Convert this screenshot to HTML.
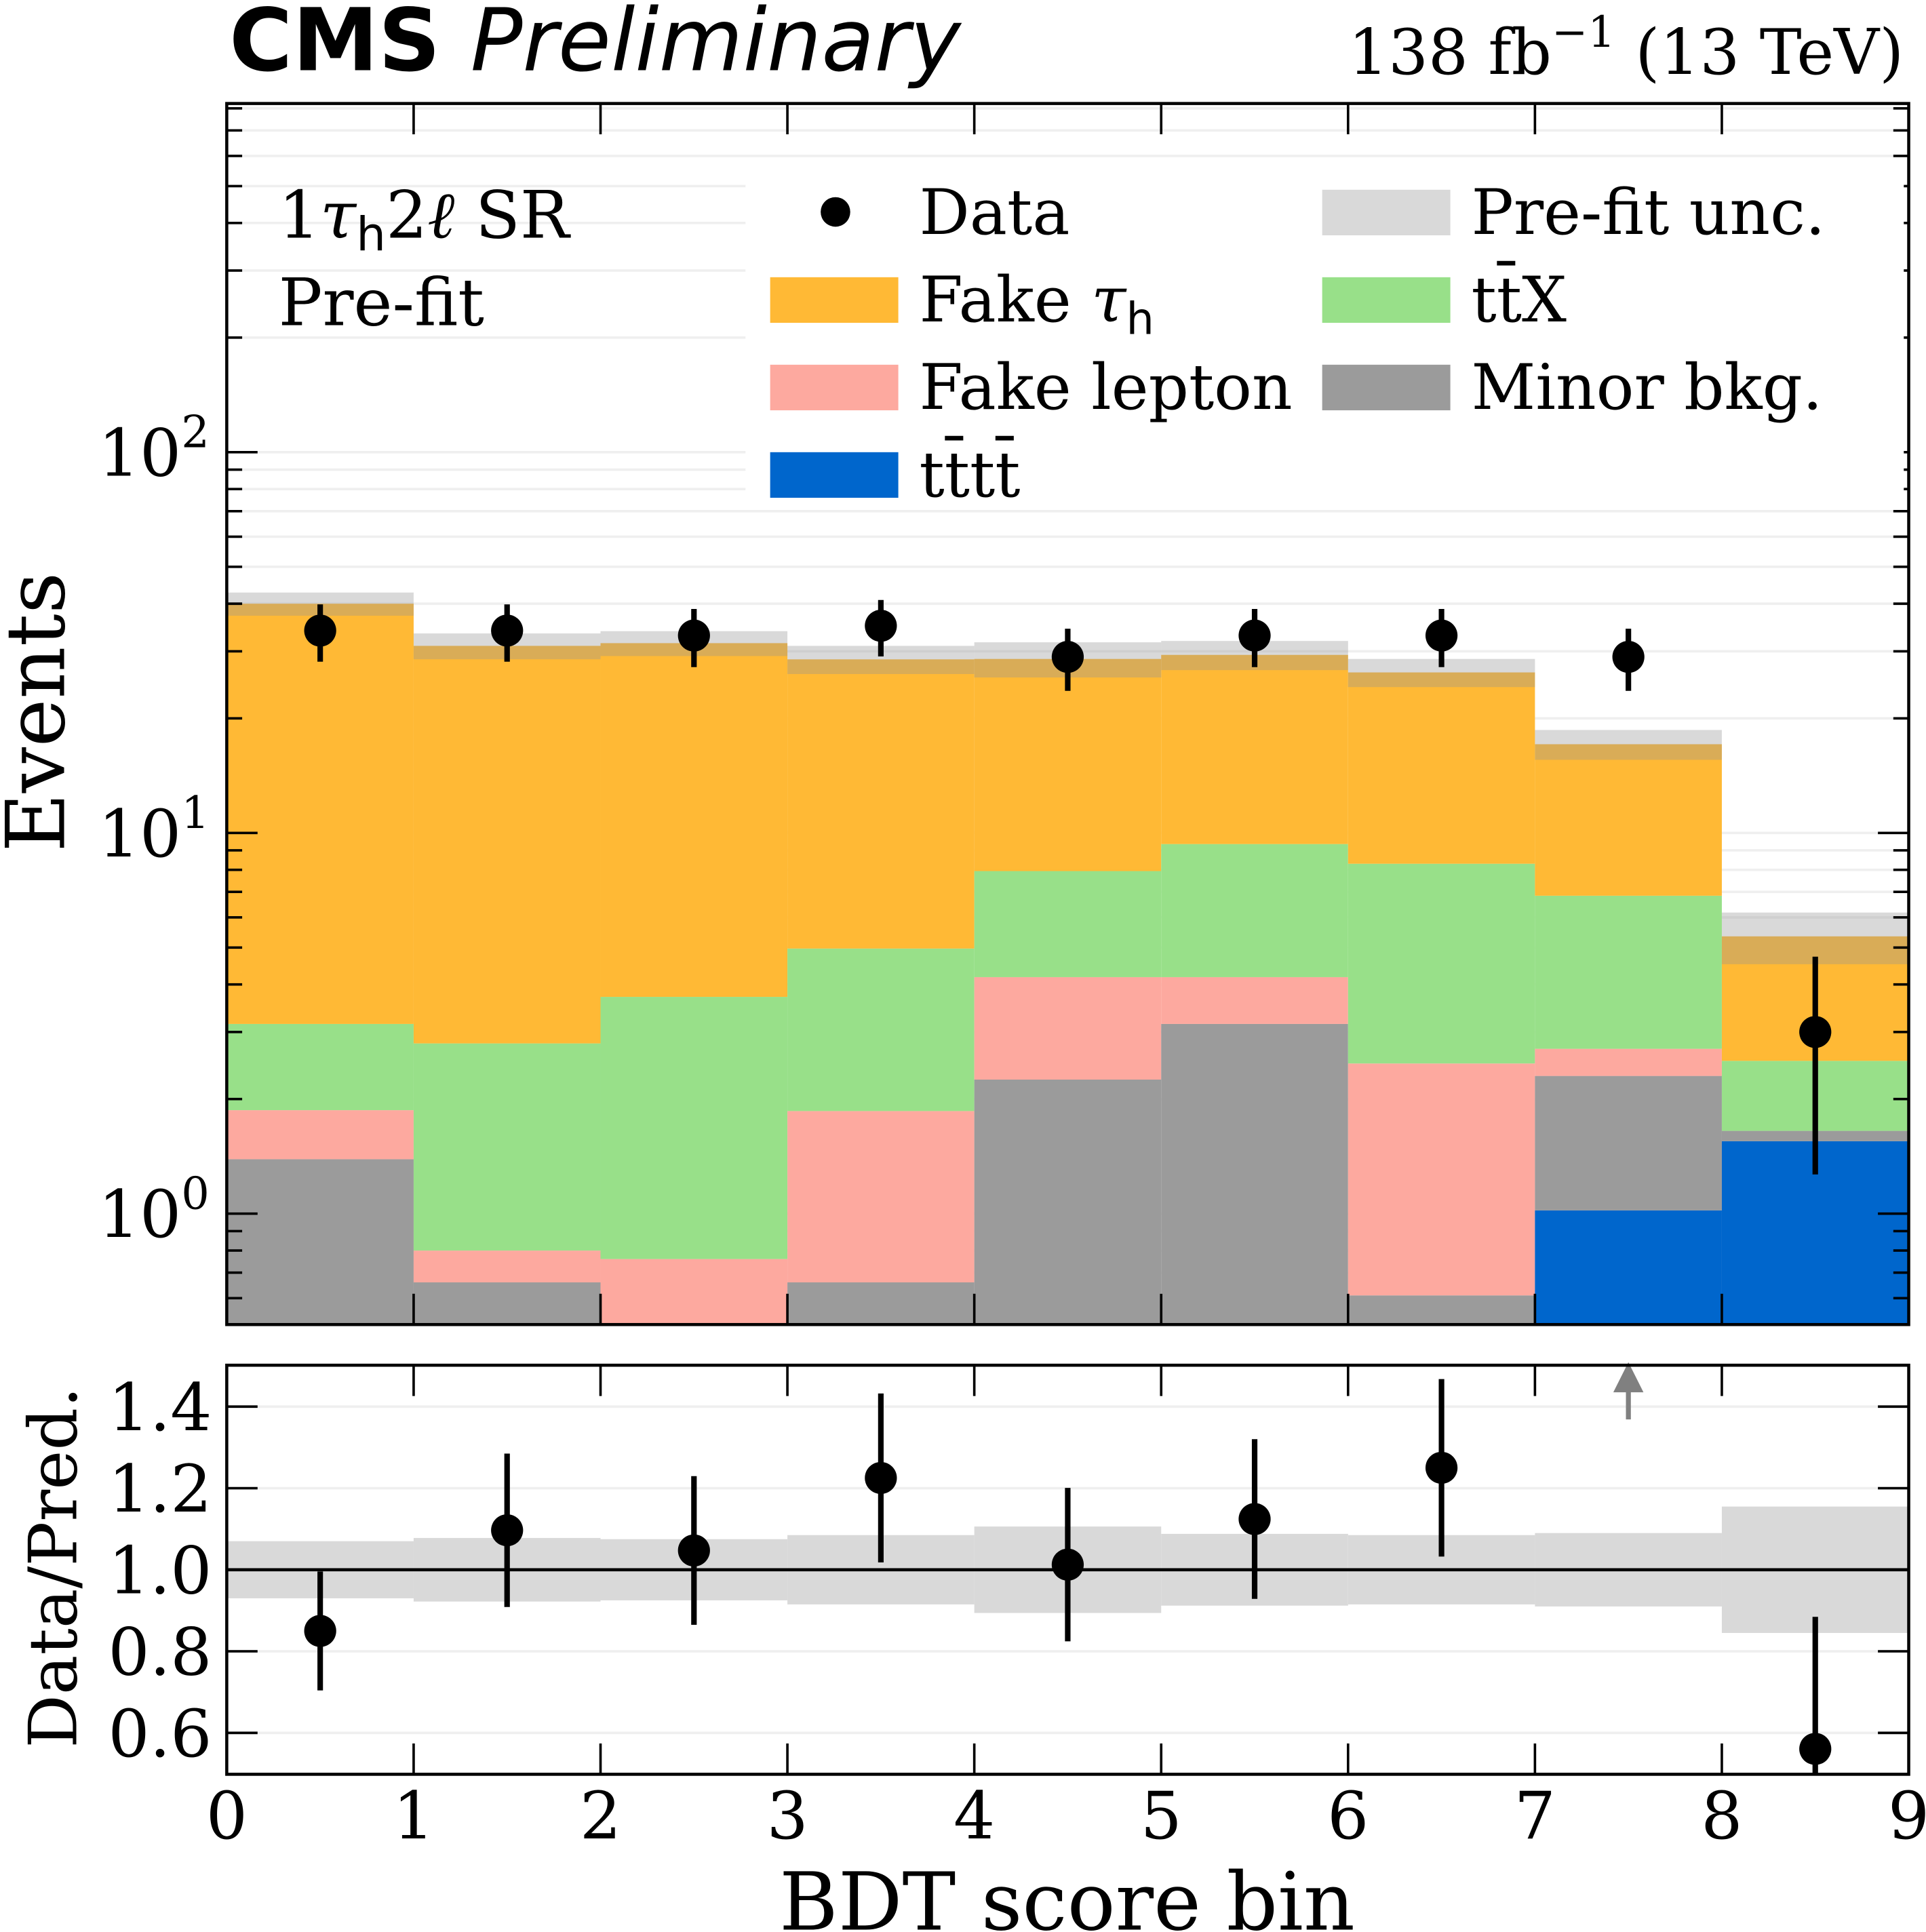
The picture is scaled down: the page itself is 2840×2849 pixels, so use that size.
<!DOCTYPE html>
<html><head><meta charset="utf-8"><style>
html,body{margin:0;padding:0;background:#fff;}
svg{display:block;}
text{font-family:"DejaVu Serif","Liberation Serif",serif;fill:#000;}
</style></head>
<body>
<svg id="chart" xmlns="http://www.w3.org/2000/svg" width="2840" height="2849" viewBox="0 0 1563 1568">
<rect x="0" y="0" width="1563" height="1568" fill="#fff"/>
<g id="grid"></g>
<g id="stack"></g>
<g id="band"></g>
<g id="rband"></g>
<g id="points"></g>
<g id="axes"></g>
<g id="legend"></g>
<text x="186" y="57" style="font-family:'DejaVu Sans','Liberation Sans',sans-serif;font-weight:bold;font-size:70px">CMS <tspan style="font-weight:normal;font-style:italic">Preliminary</tspan></text>
<text x="1545" y="60" text-anchor="end" style="font-size:51px">138 fb<tspan dy="-22" style="font-size:35px">−1</tspan><tspan dy="22"> (13 TeV)</tspan></text>
<text x="226" y="193" style="font-size:53px">1<tspan font-style="italic">τ</tspan><tspan dy="10" style="font-size:38px;font-family:'DejaVu Sans',sans-serif">h</tspan><tspan dy="-10">2<tspan font-style="italic">ℓ</tspan> SR</tspan></text>
<text x="226" y="264" style="font-size:53px">Pre-fit</text>
<text transform="translate(52,578) rotate(-90)" text-anchor="middle" style="font-size:66px">Events</text>
<text transform="translate(62,1272) rotate(-90)" text-anchor="middle" style="font-size:54px">Data/Pred.</text>
<text x="866" y="1566" text-anchor="middle" style="font-size:65px">BDT score bin</text>
</svg>
<script>
// ---- data ----
const bins = [0,1,2,3,4,5,6,7,8];
const tttt    = [0,0,0,0,0,0,0,1.02,1.55];
const minor   = [1.39,0.66,0,0.66,2.25,3.15,0.61,1.28,0.10];
const fakeLep = [0.48,0.14,0.76,1.20,1.93,1.03,1.87,0.41,0.0];
const ttX     = [1.28,2.00,2.95,3.11,3.76,5.17,5.82,4.13,0.87];
const fakeTau = [36.85,28.2,27.8,23.6,20.7,20.0,18.1,10.26,2.83];
const relUnc  = [0.07,0.078,0.075,0.085,0.106,0.088,0.085,0.09,0.155];
const dataCounts = [34,34,33,35,29,33,33,29,3];
const xTicks = ['0','1','2','3','4','5','6','7','8','9'];
const ratioTicks = ['0.6','0.8','1.0','1.2','1.4'];
const logTicks = [0,1,2];

// ---- layout ----
const X0=184, X1=1549, Y0=84, Y1=1075, R0=1108, R1=1440;
const NS='http://www.w3.org/2000/svg';
const xs = b => X0 + (X1-X0)*b/9;
const ys = v => 985 - 309*Math.log10(v);
const LOGMIN = Math.pow(10,-(Y1-985)/309), LOGMAX = Math.pow(10,(985-Y0)/309);
const yr = r => 1274 - 331*(r-1);
const clampY = y => Math.max(Y0, Math.min(Y1, y));
function mk(tag, attrs, parent){const e=document.createElementNS(NS,tag);for(const k in attrs)e.setAttribute(k,attrs[k]);parent.appendChild(e);return e;}

const grid=document.getElementById('grid');
for(let k=-1;k<3;k++){for(let m=1;m<10;m++){const v=m*Math.pow(10,k);if(v<LOGMIN||v>LOGMAX)continue;const y=ys(v);
 const l=mk('line',{x1:X0,x2:X1,y1:y,y2:y,stroke:'#efefef','stroke-width':2},grid);
 
 }}
ratioTicks.forEach(t=>{const y=yr(parseFloat(t));const l=mk('line',{x1:X0,x2:X1,y1:y,y2:y,stroke:'#efefef','stroke-width':2},grid);
 
 });

// stack
const stackG=document.getElementById('stack');
const comps=[['tttt',tttt,'#0066cc'],['minor-bkg',minor,'#9b9b9b'],['fake-lepton',fakeLep,'#fda99f'],['ttx',ttX,'#98e089'],['fake-tau',fakeTau,'#ffb935']];
const totals=[];
bins.forEach((b,i)=>{let cum=0;comps.forEach(([nm,arr,col])=>{const lo=cum;cum+=arr[i];if(arr[i]<=0)return;
 const yT=clampY(ys(cum)), yB=lo>0?clampY(ys(lo)):Y1;if(yB-yT<=0)return;
 const r=mk('rect',{x:xs(b),y:yT,width:xs(b+1)-xs(b),height:yB-yT,fill:col},stackG);
 
 });totals.push(cum);});

// uncertainty band
const bandG=document.getElementById('band'), rbandG=document.getElementById('rband');
bins.forEach((b,i)=>{const t=totals[i];const yT=ys(t*(1+relUnc[i])), yB=ys(t*(1-relUnc[i]));
 const r=mk('rect',{x:xs(b),y:yT,width:xs(b+1)-xs(b),height:yB-yT,fill:'rgba(150,150,150,0.36)'},bandG);
 
 
 const r2=mk('rect',{x:xs(b),y:yr(1+relUnc[i]),width:xs(b+1)-xs(b),height:yr(1-relUnc[i])-yr(1+relUnc[i]),fill:'#d9d9d9'},rbandG);
 
 });
const one=mk('line',{x1:X0,x2:X1,y1:yr(1),y2:yr(1),stroke:'#000','stroke-width':2.5},rbandG);



// data points
const pg=document.getElementById('points');
bins.forEach((b,i)=>{const n=dataCounts[i], e=Math.sqrt(n), cx=(xs(b)+xs(b+1))/2;
 const l=mk('line',{x1:cx,x2:cx,y1:clampY(ys(n+e)),y2:clampY(ys(Math.max(n-e,LOGMIN))),stroke:'#000','stroke-width':4.5},pg);
 
 
 const c=mk('circle',{cx:cx,cy:ys(n),r:13,fill:'#000'},pg);
 
 
 const r=n/totals[i], re=e/totals[i];
 if(r<=1.5){
  const l2=mk('line',{x1:cx,x2:cx,y1:Math.max(R0,yr(r+re)),y2:Math.min(R1,yr(r-re)),stroke:'#000','stroke-width':4.5},pg);
  
  
  const c2=mk('circle',{cx:cx,cy:yr(r),r:13,fill:'#000'},pg);
  
  
 } else {
  const a=mk('path',{d:`M${cx},1152 L${cx},1124 M${cx-9},1128 L${cx},1110 L${cx+9},1128 Z`,stroke:'#808080','stroke-width':4,fill:'#808080'},pg);
  
  
 }});

// axes
const ax=document.getElementById('axes');
[[Y0,Y1,'main-frame'],[R0,R1,'ratio-frame']].forEach(([a,b,nm])=>{const r=mk('rect',{x:X0,y:a,width:X1-X0,height:b-a,fill:'none',stroke:'#000','stroke-width':2.5},ax);
 
 });
function tick(x1,y1,x2,y2,nm){const l=mk('line',{x1,y1,x2,y2,stroke:'#000','stroke-width':2},ax);
 
 }
xTicks.forEach((t,i)=>{const x=xs(i);
 tick(x,Y0,x,Y0+25,'x-tick');tick(x,Y1,x,Y1-25,'x-tick');tick(x,R0,x,R0+25,'x-tick');tick(x,R1,x,R1-25,'x-tick');
 const tx=mk('text',{x:x,y:1492,'text-anchor':'middle','font-size':53},ax);tx.textContent=t;
 
 });
for(let k=-1;k<3;k++){for(let m=1;m<10;m++){const v=m*Math.pow(10,k);if(v<LOGMIN||v>LOGMAX)continue;const y=ys(v);const len=m===1?25:12.5;
 tick(X0,y,X0+len,y,'y-tick');tick(X1,y,X1-len,y,'y-tick');}}
logTicks.forEach(k=>{const t=mk('text',{x:170,y:ys(Math.pow(10,k))+19,'text-anchor':'end','font-size':53},ax);
 
 
 t.textContent='10';
 const s=mk('tspan',{dy:-23,'font-size':36},t);s.textContent=String(k);});
ratioTicks.forEach(tl=>{const y=yr(parseFloat(tl));tick(X0,y,X0+25,y,'ratio-tick');tick(X1,y,X1-25,y,'ratio-tick');
 const t=mk('text',{x:172,y:y+19,'text-anchor':'end','font-size':53},ax);t.textContent=tl;
 
 });

// legend
const lg=document.getElementById('legend');
const lb=mk('rect',{x:605,y:140,width:940,height:272,fill:'#fff'},lg);


function entry(x,ycen,label,col,nm){
 let p;
 if(col==='dot'){p=mk('circle',{cx:x+53,cy:ycen,r:12,fill:'#000'},lg);}
 else{p=mk('rect',{x:x,y:ycen-18,width:104,height:37,fill:col},lg);}
 
 
 const t=mk('text',{x:x+121,y:ycen+18,'font-size':51},lg);t.innerHTML=label;
 
 }
entry(625,172,'Data','dot','legend-data');
entry(625,243,'Fake <tspan font-style="italic">τ</tspan><tspan dy="10" font-size="36" style="font-family:\'DejaVu Sans\',sans-serif">h</tspan>','#ffb935','legend-fake-tau');
entry(625,314,'Fake lepton','#fda99f','legend-fake-lepton');
entry(625,385,'tt̄tt̄','#0066cc','legend-tttt');
entry(1073,172,'Pre-fit unc.','#d9d9d9','legend-prefit-unc');
entry(1073,243,'tt̄X','#98e089','legend-ttx');
entry(1073,314,'Minor bkg.','#9b9b9b','legend-minor-bkg');
</script>
</body></html>
